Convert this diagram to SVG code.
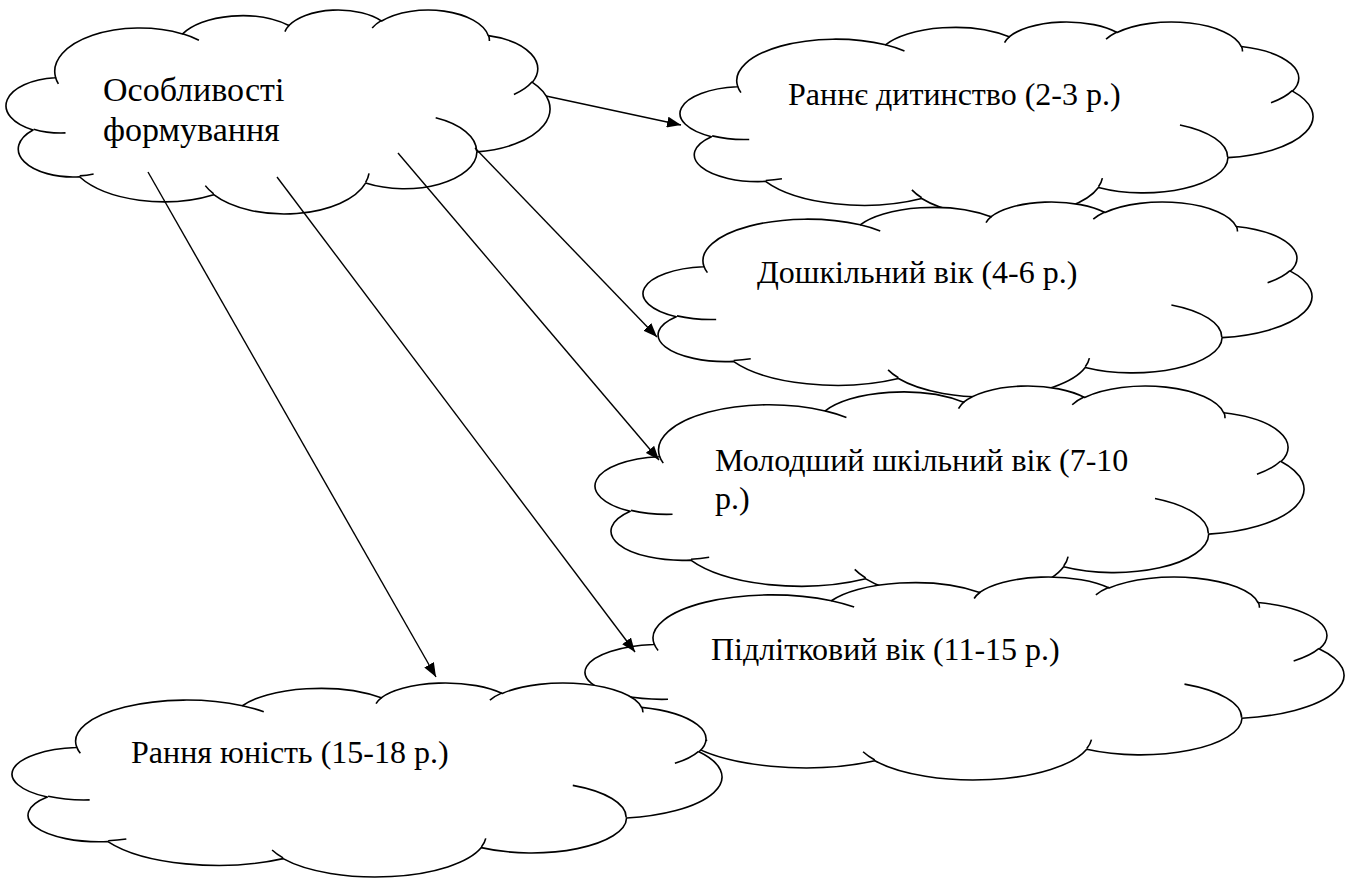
<svg xmlns="http://www.w3.org/2000/svg" xmlns:xlink="http://www.w3.org/1999/xlink" width="1360" height="879" viewBox="0 0 1360 879">
<style>
.outline{fill:#fff;stroke:#000;stroke-width:1.6;vector-effect:non-scaling-stroke;stroke-linejoin:round}
.inner{fill:none;stroke:#000;stroke-width:1.6;vector-effect:non-scaling-stroke}
.lbl{font-family:"Liberation Serif","Times New Roman",serif;font-size:32px;fill:#000}
.big{font-size:34px}
.conn{stroke:#000;stroke-width:1.4;fill:none;marker-end:url(#arr)}
</style>
<defs>
<path id="cloud-outline" class="outline" d="M39.00 143.70 A67.53 91.90 0 0 1 140.04 52.02 A53.33 72.67 0 0 1 224.55 34.31 A43.65 59.45 0 0 1 298.32 24.79 A48.57 65.95 0 0 1 383.17 55.75 A53.33 72.73 0 0 1 418.18 154.58 A67.75 92.20 0 0 1 374.05 302.03 A57.85 78.67 0 0 1 285.56 368.13 A67.52 92.15 0 0 1 164.81 392.66 A77.20 105.43 0 0 1 58.05 354.69 A43.60 59.18 0 0 1 21.12 255.51 A43.45 59.45 0 0 1 38.61 145.07 Z"/>
<path id="cloud-inner" class="inner" d="M46.93 261.77 A43.45 59.45 0 0 1 21.60 253.80 M69.28 348.99 A43.60 59.18 0 0 1 58.20 352.81 M164.78 390.90 A67.52 92.15 0 0 1 158.09 373.48 M288.27 347.51 A67.52 92.15 0 0 1 285.60 366.60 M341.29 229.54 A57.85 78.67 0 0 1 373.81 300.90 M417.98 153.54 A53.33 72.73 0 0 1 403.50 180.30 M383.24 54.26 A48.57 65.95 0 0 1 384.00 66.90 M290.78 39.52 A48.57 65.95 0 0 1 298.20 23.40 M221.41 47.20 A43.65 59.45 0 0 1 225.00 33.30 M140.00 51.92 A67.53 91.90 0 0 1 153.02 65.42 M41.27 157.89 A67.53 91.90 0 0 1 39.00 143.71"/>
<marker id="arr" markerUnits="userSpaceOnUse" markerWidth="15" markerHeight="11" refX="14" refY="5.5" orient="auto"><path d="M0,0 L14,5.5 L0,11 z" fill="#000"/></marker>
</defs>

<g id="node-osoblyvosti">
<g transform="translate(6.48 9.34) scale(1.2576 0.47203)"><use href="#cloud-outline" xlink:href="#cloud-outline"/><use href="#cloud-inner" xlink:href="#cloud-inner"/></g>
<text class="lbl big" x="103" y="101">Особливості</text>
<text class="lbl big" x="103" y="141">формування</text>
</g>

<g id="node-rannie-dytynstvo">
<g transform="translate(680.56 21.37) scale(1.4633 0.45120)"><use href="#cloud-outline" xlink:href="#cloud-outline"/><use href="#cloud-inner" xlink:href="#cloud-inner"/></g>
<text class="lbl" x="788" y="105">Раннє дитинство (2-3 р.)</text>
</g>

<g id="node-doshkilnyi">
<g transform="translate(643.59 201.37) scale(1.5465 0.45120)"><use href="#cloud-outline" xlink:href="#cloud-outline"/><use href="#cloud-inner" xlink:href="#cloud-inner"/></g>
<text class="lbl" x="757" y="283">Дошкільний вік (4-6 р.)</text>
</g>

<g id="node-molodshyi">
<g transform="translate(595.62 385.31) scale(1.6390 0.49285)"><use href="#cloud-outline" xlink:href="#cloud-outline"/><use href="#cloud-inner" xlink:href="#cloud-inner"/></g>
<text class="lbl" x="715" y="471">Молодший шкільний вік (7-10</text>
<text class="lbl" x="715" y="509">р.)</text>
</g>

<g id="node-pidlitkovyi">
<g transform="translate(585.67 576.34) scale(1.7546 0.46971)"><use href="#cloud-outline" xlink:href="#cloud-outline"/><use href="#cloud-inner" xlink:href="#cloud-inner"/></g>
<text class="lbl" x="711" y="660">Підлітковий вік (11-15 р.)</text>
</g>

<g id="node-rannia-yunist">
<g transform="translate(12.62 682.37) scale(1.6413 0.44888)"><use href="#cloud-outline" xlink:href="#cloud-outline"/><use href="#cloud-inner" xlink:href="#cloud-inner"/></g>
<text class="lbl" x="131" y="763">Рання юність (15-18 р.)</text>
</g>

<g id="connectors">
<line class="conn" x1="546" y1="96" x2="681" y2="125"/>
<line class="conn" x1="475" y1="148" x2="657" y2="337"/>
<line class="conn" x1="398" y1="153" x2="659" y2="460"/>
<line class="conn" x1="277" y1="177" x2="635" y2="652"/>
<line class="conn" x1="148" y1="172" x2="436" y2="677"/>
</g>
</svg>
